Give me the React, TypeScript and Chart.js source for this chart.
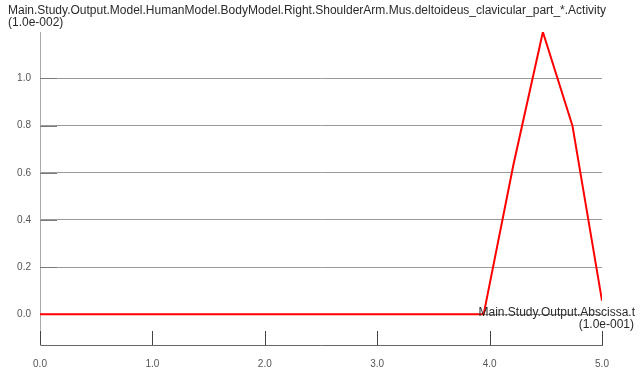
import { useEffect, useRef } from 'react';
import Chart from 'chart.js/auto';

const tValues = [0, 0.263, 0.526, 0.789, 1.053, 1.316, 1.579, 1.842, 2.105, 2.368, 2.632, 2.895, 3.158, 3.421, 3.684, 3.947, 4.211, 4.474, 4.737, 5.0];
const activity = [0, 0, 0, 0, 0, 0, 0, 0, 0, 0, 0, 0, 0, 0, 0, 0, 0.632, 1.197, 0.8, 0.058];
const xTicks = [0, 1, 2, 3, 4, 5];
const yTicks = [0, 0.2, 0.4, 0.6, 0.8, 1.0];
const titleLines = ['Main.Study.Output.Model.HumanModel.BodyModel.Right.ShoulderArm.Mus.deltoideus_clavicular_part_*.Activity', '(1.0e-002)'];
const xTitleLines = ['Main.Study.Output.Abscissa.t', '(1.0e-001)'];

const FONT = '"Liberation Sans", Arial, sans-serif';

export default function App() {
  const ref = useRef<HTMLCanvasElement>(null);
  useEffect(() => {
    const canvas = ref.current;
    if (!canvas) return;
    const textPlugin = {
      id: 'texts',
      beforeDatasetsDraw(chart: any) {
        const ctx = chart.ctx;
        const xs = chart.scales.x;
        const ys = chart.scales.y;
        const area = chart.chartArea;
        ctx.save();
        ctx.lineWidth = 1;
        ctx.strokeStyle = '#444';
        for (const v of xTicks) {
          const px = Math.round(xs.getPixelForValue(v)) + 0.5;
          ctx.beginPath();
          ctx.moveTo(px, area.bottom);
          ctx.lineTo(px, area.bottom - 14);
          ctx.stroke();
        }
        ctx.strokeStyle = '#7a7a7a';
        for (const v of yTicks) {
          const py = Math.round(ys.getPixelForValue(v)) + 0.5;
          ctx.beginPath();
          ctx.moveTo(area.left, py);
          ctx.lineTo(area.left + 17, py);
          ctx.stroke();
        }
        ctx.restore();
      },
      afterDraw(chart: any) {
        const ctx = chart.ctx;
        ctx.save();
        ctx.fillStyle = '#2a2a2a';
        ctx.font = `12px ${FONT}`;
        ctx.textBaseline = 'middle';
        ctx.textAlign = 'left';
        ctx.fillText(titleLines[0], 8, 11);
        ctx.fillText(titleLines[1], 8, 23);
        ctx.textAlign = 'right';
        ctx.fillText(xTitleLines[0], 635, 313);
        ctx.fillText(xTitleLines[1], 634, 325);
        ctx.restore();
      },
    };
    const chart = new Chart(canvas, {
      type: 'line',
      data: {
        datasets: [
          {
            data: tValues.map((t, i) => ({ x: t, y: activity[i] })),
            borderColor: '#ff0000',
            borderWidth: 2,
            pointRadius: 0,
            tension: 0,
            fill: false,
          },
        ],
      },
      options: {
        animation: false,
        responsive: false,
        layout: { padding: { top: 32, right: 41, left: 0, bottom: 0 } },
        plugins: { legend: { display: false }, tooltip: { enabled: false } },
        scales: {
          x: {
            type: 'linear',
            min: 0,
            max: 5,
            afterBuildTicks: (s: any) => { s.ticks = xTicks.map((v) => ({ value: v })); },
            afterFit: (s: any) => { s.height = 26; },
            ticks: {
              callback: (v: any) => Number(v).toFixed(1),
              font: { size: 10, family: FONT },
              color: '#555',
              padding: 5,
              maxRotation: 0,
            },
            grid: { display: false },
            border: { color: '#666', width: 1 },
          },
          y: {
            type: 'linear',
            min: -0.13,
            max: 1.197,
            afterBuildTicks: (s: any) => { s.ticks = yTicks.map((v) => ({ value: v })); },
            afterFit: (s: any) => { s.width = 40; },
            ticks: {
              callback: (v: any) => Number(v).toFixed(1),
              font: { size: 10, family: FONT },
              color: '#555',
              padding: 9,
            },
            grid: { color: '#999', drawTicks: false, lineWidth: 1 },
            border: { color: '#aaa', width: 1 },
          },
        },
      },
      plugins: [textPlugin],
    });
    return () => chart.destroy();
  }, []);
  return (
    <div style={{ position: 'fixed', left: 0, top: 0, width: 643, height: 371, background: '#fff' }}>
      <canvas ref={ref} width={643} height={371} style={{ display: 'block' }} />
    </div>
  );
}
